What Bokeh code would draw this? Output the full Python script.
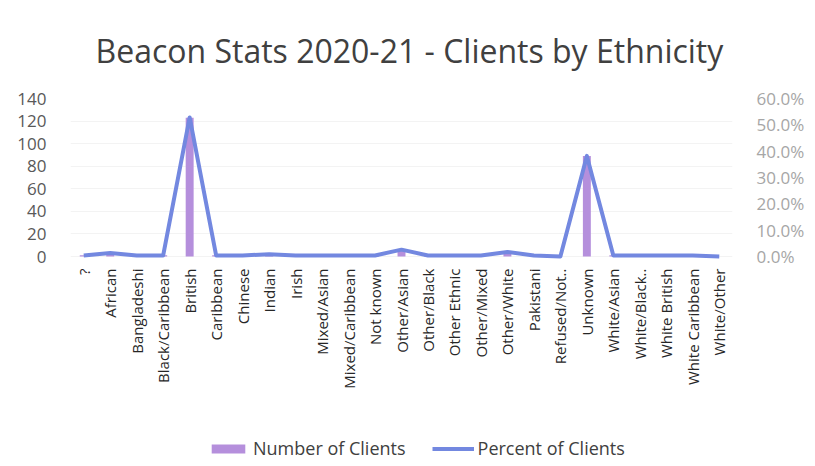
from bokeh.plotting import figure
from bokeh.models import (Range1d, FactorRange, LinearAxis, FixedTicker,
                          PrintfTickFormatter, Legend, LegendItem, ColumnDataSource)
from bokeh.embed import file_html
from bokeh.resources import INLINE
import math

categories = ["?", "African", "Bangladeshi", "Black/Caribbean", "British", "Caribbean",
              "Chinese", "Indian", "Irish", "Mixed/Asian", "Mixed/Caribbean", "Not known",
              "Other/Asian", "Other/Black", "Other Ethnic", "Other/Mixed", "Other/White",
              "Pakistani", "Refused/Not..", "Unknown", "White/Asian", "White/Black..",
              "White British", "White Caribbean", "White/Other"]
clients = [1, 3, 1, 1, 123, 1, 1, 2, 1, 1, 1, 1, 6, 1, 1, 1, 4, 1, 0, 89, 1, 1, 1, 1, 0]
percent = [0.4, 1.3, 0.4, 0.4, 52.8, 0.4, 0.4, 0.9, 0.4, 0.4, 0.4, 0.4, 2.6, 0.4, 0.4,
           0.4, 1.7, 0.4, 0.0, 38.2, 0.4, 0.4, 0.4, 0.4, 0.0]
left_ticks = [0, 20, 40, 60, 80, 100, 120, 140]
right_ticks = [0, 10, 20, 30, 40, 50, 60]

FONT = "Open Sans"

# plot area of the value scales is 158 px tall; the frame is extended below it
# so that the category labels and the legend sit inside the drawing area
PLOT_H = 158
FRAME_H = 368
left_lo = 140 - FRAME_H * 140 / PLOT_H
right_lo = 60 - FRAME_H * 60 / PLOT_H

src = ColumnDataSource(dict(cat=categories, clients=clients, pct=percent))

p = figure(x_range=FactorRange(*categories, range_padding=0),
           y_range=Range1d(left_lo, 140),
           frame_width=662, frame_height=FRAME_H,
           min_border_left=70, min_border_right=75, min_border_top=98, min_border_bottom=0,
           output_backend="svg", toolbar_location=None,
           title="Beacon Stats 2020-21 - Clients by Ethnicity")
p.extra_y_ranges = {"pct": Range1d(right_lo, 60)}
p.outline_line_color = None
p.background_fill_color = "white"

p.title.text_font = FONT
p.title.text_font_size = "32px"
p.title.text_font_style = "normal"
p.title.text_color = "#404040"
p.title.align = "left"
p.title.standoff = 53
p.title.offset = 25

bars = p.vbar(x="cat", top="clients", bottom=0, width=0.3, source=src,
              fill_color="#b58fdc", line_color=None)
line = p.line(x="cat", y="pct", source=src, y_range_name="pct",
              line_color="#7388e0", line_width=4, line_join="round")

# axes
xa = p.xaxis[0]
xa.fixed_location = 0
xa.major_label_orientation = math.pi / 2
xa.major_label_text_font = FONT
xa.major_label_text_font_size = "15px"
xa.major_label_text_color = "#262626"
xa.axis_line_color = None
xa.major_tick_line_color = None
xa.minor_tick_line_color = None
xa.major_label_standoff = 6

ya = p.yaxis[0]
ya.ticker = FixedTicker(ticks=left_ticks)
ya.major_label_text_font = FONT
ya.major_label_text_font_size = "17px"
ya.major_label_text_color = "#595959"
ya.axis_line_color = None
ya.major_tick_line_color = None
ya.minor_tick_line_color = None
ya.major_label_standoff = 18

ra = LinearAxis(y_range_name="pct", ticker=FixedTicker(ticks=right_ticks),
                formatter=PrintfTickFormatter(format="%.1f%%"))
ra.major_label_text_font = FONT
ra.major_label_text_font_size = "17px"
ra.major_label_text_color = "#a6a6a6"
ra.axis_line_color = None
ra.major_tick_line_color = None
ra.minor_tick_line_color = None
ra.major_label_standoff = 18
p.add_layout(ra, "right")

p.xgrid.grid_line_color = None
p.ygrid.grid_line_color = "#f3f3f3"
p.ygrid.ticker = FixedTicker(ticks=left_ticks)

legend = Legend(items=[LegendItem(label="Number of Clients", renderers=[bars]),
                       LegendItem(label="Percent of Clients", renderers=[line])],
                orientation="horizontal", location=(137, 6),
                label_text_font=FONT, label_text_font_size="18px",
                label_text_color="#404040", glyph_width=42, glyph_height=11,
                spacing=26, padding=0, margin=0, border_line_color=None,
                background_fill_alpha=0, label_standoff=4)
p.add_layout(legend)

open("out.html", "w").write(file_html(p, INLINE))
